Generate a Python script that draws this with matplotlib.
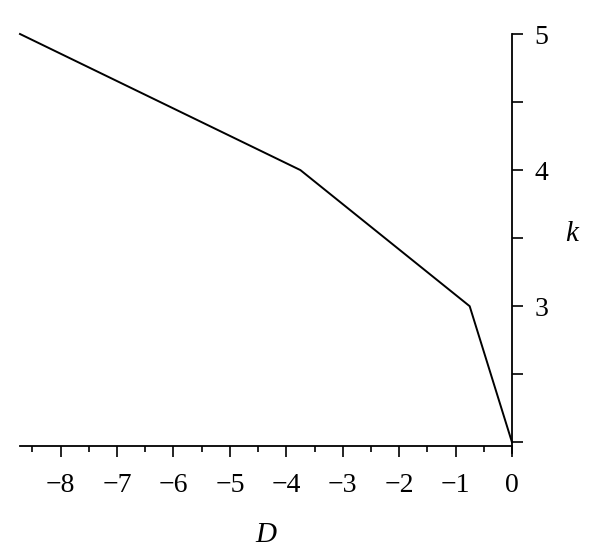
import matplotlib
matplotlib.use("Agg")
import matplotlib.pyplot as plt
import numpy as np

# data
D_vals = [-8.72, -3.75, -0.75, 0.0]
k_vals = [5.0, 4.0, 3.0, 2.0]

x_major = [-8, -7, -6, -5, -4, -3, -2, -1, 0]
x_minor = [-8.5, -7.5, -6.5, -5.5, -4.5, -3.5, -2.5, -1.5, -0.5]
y_ticks = [2, 2.5, 3, 3.5, 4, 4.5, 5]
y_labels = ["", "", "3", "", "4", "", "5"]

plt.rcParams['font.family'] = ['Liberation Serif', 'DejaVu Serif']

fig = plt.figure(figsize=(6, 5.54), dpi=100)
W, H = 600, 554
left, right, top, bottom = 20, 512, 34, 445.7
ax = fig.add_axes([left / W, 1 - bottom / H, (right - left) / W, (bottom - top) / H])

ax.plot(D_vals, k_vals, color='black', lw=1.4, clip_on=False)

ax.set_xlim(-8.72, 0)
ax.set_ylim(1.975, 5)

# spines: x axis at bottom, y axis on the right at D=0
for s in ['top', 'left']:
    ax.spines[s].set_visible(False)
ax.spines['right'].set_position(('data', 0))
ax.spines['right'].set_bounds(1.92, 5)
for s in ['bottom', 'right']:
    ax.spines[s].set_linewidth(1.3)

ax.set_xticks(x_major)
ax.set_xticklabels([str(v).replace('-', '\u2212') for v in x_major])
ax.set_xticks(x_minor, minor=True)
ax.tick_params(axis='x', which='major', direction='out', length=8, width=1.2,
               labelsize=20, pad=12)
ax.tick_params(axis='x', which='minor', direction='out', length=4.5, width=1.2)

ax.yaxis.tick_right()
ax.set_yticks(y_ticks)
ax.set_yticklabels(y_labels)
ax.tick_params(axis='y', which='major', direction='out', length=8, width=1.2,
               labelsize=20, pad=8)

ax.set_xlabel('D', fontsize=21, style='italic')
ax.xaxis.set_label_coords(0.5, -0.185)
ax.set_ylabel('k', fontsize=21, style='italic', rotation=0, ha='center', va='center')
ax.yaxis.set_label_position('right')
ax.yaxis.set_label_coords(1.122, 0.545)

fig.savefig('out.png', dpi=100)
